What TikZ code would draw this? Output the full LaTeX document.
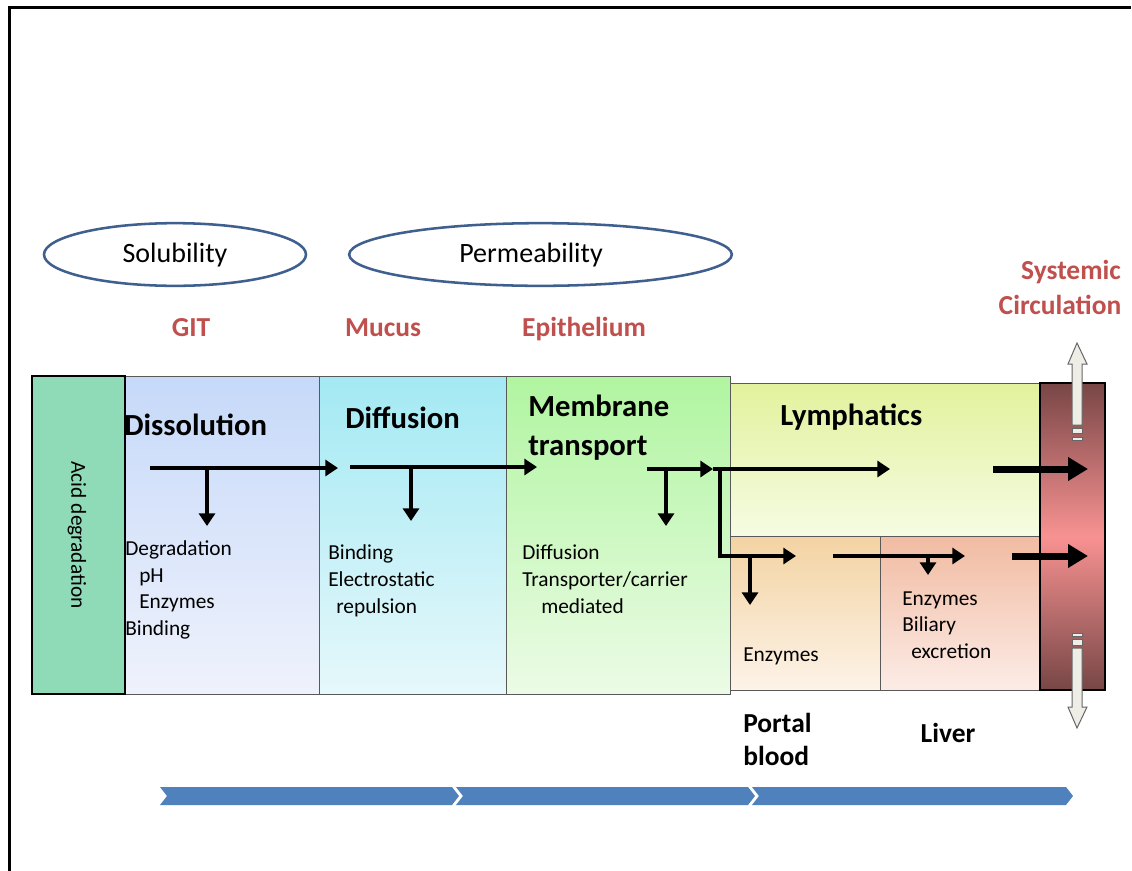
\documentclass[tikz,border=0pt]{standalone}
\usepackage{fontspec}
\setmainfont{Carlito}
\usetikzlibrary{arrows.meta,shapes.geometric}
\definecolor{redlab}{HTML}{C0504D}
\definecolor{ellblue}{HTML}{3F5F8F}
\definecolor{chev}{HTML}{4F81BD}
\definecolor{acid}{HTML}{8FDAB7}
\definecolor{blockfill}{HTML}{EEEEE6}
\definecolor{dissT}{RGB}{198,217,249}
\definecolor{dissB}{RGB}{239,242,252}
\definecolor{diffT}{RGB}{163,233,243}
\definecolor{diffB}{RGB}{230,248,251}
\definecolor{membT}{RGB}{176,245,160}
\definecolor{membB}{RGB}{236,251,230}
\definecolor{lymT}{RGB}{226,242,156}
\definecolor{lymB}{RGB}{246,251,227}
\definecolor{porT}{RGB}{243,211,162}
\definecolor{porB}{RGB}{253,243,232}
\definecolor{livT}{RGB}{241,187,162}
\definecolor{livB}{RGB}{252,236,230}
\definecolor{sysD}{RGB}{120,70,70}
\definecolor{sysM}{RGB}{248,146,146}
\tikzset{
  txt/.style={inner sep=0pt, text height=1.2em, text depth=0.1em},
  small/.style={txt, font=\fontsize{16}{19}\selectfont, anchor=west},
  headtxt/.style={txt, font=\fontsize{23}{27}\selectfont\bfseries, anchor=west},
  redtxt/.style={txt, font=\fontsize{20.6}{24}\selectfont\bfseries, text=redlab},
  blacklab/.style={txt, font=\fontsize{20.6}{24}\selectfont\bfseries},
  oval/.style={ellipse, draw=ellblue, line width=1.9pt, inner sep=0pt},
  ovaltxt/.style={txt, font=\fontsize{21}{25}\selectfont},
  flow/.style={line width=3pt, -{Triangle[length=9.5pt,width=12pt]}},
  bigflow/.style={line width=5.25pt, -{Triangle[length=15pt,width=17pt]}},
  stage/.style={draw=black!65, line width=0.75pt},
  blockarrow/.style={fill=blockfill, draw=black!60, line width=0.75pt},
  chevron/.style={fill=chev}
}
\begin{document}
\begin{tikzpicture}[x=0.75pt,y=-0.75pt]
\useasboundingbox (0,0) rectangle (1132,871);
\fill[white] (0,0) rectangle (1132,871);
% frame
\draw[line width=2.25pt] (9,871) -- (9,7) -- (1131,7);

% ellipses
\node[oval, minimum width=196.5pt, minimum height=47pt] (sol) at (175,254.5) {};
\node[oval, minimum width=287pt, minimum height=47pt] (perm) at (540.5,254.5) {};
\node[ovaltxt] (soltxt) at (175,255) {Solubility};
\node[ovaltxt] (permtxt) at (531,255) {Permeability};

% red labels
\node[redtxt] (git) at (191,329) {GIT};
\node[redtxt] (mucus) at (383,329) {Mucus};
\node[redtxt] (epi) at (584,329) {Epithelium};
\node[redtxt] (sys1) at (1071,272) {Systemic};
\node[redtxt] (sys2) at (1060,307) {Circulation};

% stage boxes
\shade[top color=dissT, bottom color=dissB] (125,376) rectangle (319,694);
\draw[stage] (125,376) rectangle (319,694);
\shade[top color=diffT, bottom color=diffB] (319,376) rectangle (506,694);
\draw[stage] (319,376) rectangle (506,694);
\shade[top color=membT, bottom color=membB] (506,376) rectangle (730,694);
\draw[stage] (506,376) rectangle (730,694);
\shade[top color=lymT, bottom color=lymB] (730,383) rectangle (1040,536);
\draw[stage] (730,383) rectangle (1040,536);
\shade[top color=porT, bottom color=porB] (730,536) rectangle (880,690);
\draw[stage] (730,536) rectangle (880,690);
\shade[top color=livT, bottom color=livB] (880,536) rectangle (1040,690);
\draw[stage] (880,536) rectangle (1040,690);
% systemic bar
\shade[top color=sysD, bottom color=sysD, middle color=sysM] (1040,383) rectangle (1105,690);
\draw[line width=0.9pt] (1040,383) rectangle (1105,690);
% acid degradation box
\fill[acid] (32,376) rectangle (125,694);
\draw[line width=2.2pt] (32,376) rectangle (125,694);
\node[font=\fontsize{16}{19}\selectfont, rotate=-90, inner sep=0pt] (acidtxt) at (77,535) {Acid degradation};

% headings
\node[headtxt] (diss) at (124,428) {Dissolution};
\node[headtxt] (diff) at (345,421) {Diffusion};
\node[headtxt] (memb1) at (528,409) {Membrane};
\node[headtxt] (memb2) at (528,448) {transport};
\node[headtxt] (lymph) at (780,418) {Lymphatics};

% small texts
\node[small] (t1) at (125,548) {Degradation};
\node[small] (t2) at (139,575) {pH};
\node[small] (t3) at (139,601) {Enzymes};
\node[small] (t4) at (125,628) {Binding};
\node[small] (t5) at (328,552) {Binding};
\node[small] (t6) at (328,579) {Electrostatic};
\node[small] (t7) at (336,606) {repulsion};
\node[small] (t8) at (522,552) {Diffusion};
\node[small] (t9) at (522,579) {Transporter/carrier};
\node[small] (t10) at (541,606) {mediated};
\node[small] (t11) at (743,654) {Enzymes};
\node[small] (t12) at (902,598) {Enzymes};
\node[small] (t13) at (902,624) {Biliary};
\node[small] (t14) at (911,651) {excretion};

% black labels below
\node[blacklab, anchor=west] (portal1) at (743,725) {Portal};
\node[blacklab, anchor=west] (portal2) at (743,758) {blood};
\node[blacklab] (liver) at (948,735) {Liver};

% arrow coordinates
\coordinate (a1s) at (150,468); \coordinate (a1e) at (338,468);
\coordinate (b1s) at (207,468); \coordinate (b1e) at (207,526);
\coordinate (a2s) at (350,467); \coordinate (a2e) at (537,467);
\coordinate (b2s) at (411,467); \coordinate (b2e) at (411,521);
\coordinate (a3s) at (647,469); \coordinate (a3m) at (713,469); \coordinate (a3e) at (890,469);
\coordinate (b3s) at (666,469); \coordinate (b3e) at (666,526);
\coordinate (c1) at (720,469); \coordinate (c2) at (720,556); \coordinate (c3) at (796,556);
\coordinate (b4s) at (750,556); \coordinate (b4e) at (750,605);
\coordinate (a4s) at (833,556); \coordinate (a4e) at (965,556);
\coordinate (b5s) at (928,556); \coordinate (b5e) at (928,575);
\coordinate (g1s) at (993,469); \coordinate (g1e) at (1088,469);
\coordinate (g2s) at (1012,556); \coordinate (g2e) at (1088,556);

\draw[flow] (a1s) -- (a1e);
\draw[flow] (b1s) -- (b1e);
\draw[flow] (a2s) -- (a2e);
\draw[flow] (b2s) -- (b2e);
\draw[flow] (a3s) -- (a3m);
\draw[flow] (a3m) -- (a3e);
\draw[flow] (b3s) -- (b3e);
\draw[flow] (c1) -- (c2) -- (c3);
\draw[flow] (b4s) -- (b4e);
\draw[flow] (a4s) -- (a4e);
\draw[flow] (b5s) -- (b5e);
\draw[bigflow] (g1s) -- (g1e);
\draw[bigflow] (g2s) -- (g2e);

% block arrows (up / down)
\draw[blockarrow] (1072,425) -- (1072,364) -- (1068,364) -- (1077,343) -- (1087,364) -- (1082,364) -- (1082,425) -- cycle;
\draw[blockarrow] (1072,428) rectangle (1082,433);
\draw[blockarrow] (1072,437) rectangle (1082,440);
\draw[blockarrow] (1072,648) -- (1072,707) -- (1068,707) -- (1077,728) -- (1087,707) -- (1082,707) -- (1082,648) -- cycle;
\draw[blockarrow] (1072,633) rectangle (1082,636);
\draw[blockarrow] (1072,639) rectangle (1082,645);

% chevrons
\fill[chevron] (160,787) -- (452,787) -- (459,796) -- (452,805) -- (160,805) -- (167,796) -- cycle;
\fill[chevron] (456,787) -- (748,787) -- (755,796) -- (748,805) -- (456,805) -- (463,796) -- cycle;
\fill[chevron] (752,787) -- (1066,787) -- (1073,796) -- (1066,805) -- (752,805) -- (759,796) -- cycle;
\end{tikzpicture}
\end{document}
